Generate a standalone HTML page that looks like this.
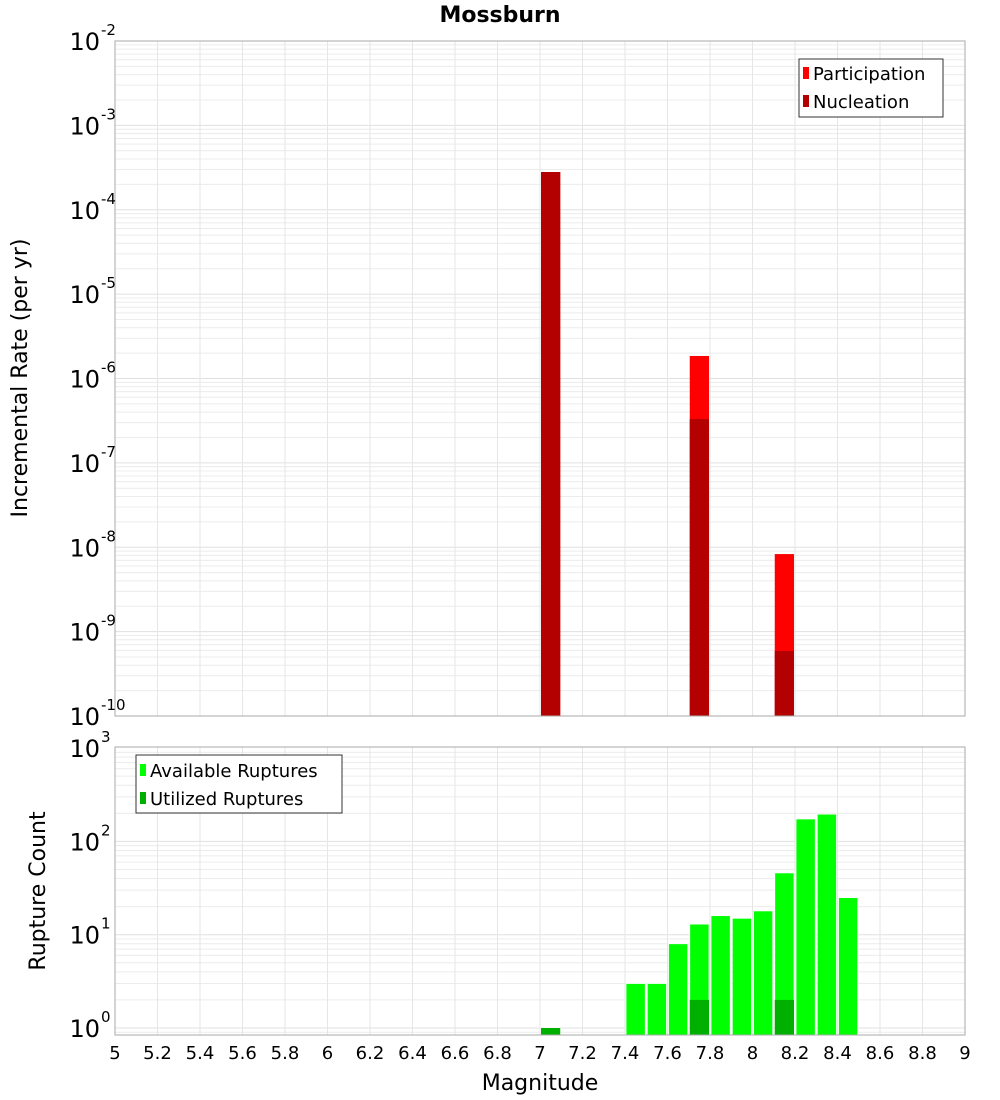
<!DOCTYPE html>
<html><head><meta charset="utf-8"><style>
body{margin:0;background:#fff;}
svg{display:block;font-family:"DejaVu Sans","Liberation Sans",sans-serif;}
</style></head><body>
<svg id="chart" width="1000" height="1100" viewBox="0 0 1000 1100" xmlns="http://www.w3.org/2000/svg">
<text x="500" y="22" text-anchor="middle" font-size="22" font-weight="bold">Mossburn</text>
<g id="top"></g><g id="bot"></g>
<text transform="translate(27,378) rotate(-90)" text-anchor="middle" font-size="22">Incremental Rate (per yr)</text>
<text transform="translate(45,891) rotate(-90)" text-anchor="middle" font-size="22">Rupture Count</text>
<text x="540" y="1090" text-anchor="middle" font-size="22">Magnitude</text>
</svg>
<script>
const topMags=[7.05,7.75,8.15];
const participation=[2.8e-4,1.85e-6,8.3e-9];
const nucleation=[2.8e-4,3.3e-7,5.9e-10];
const botMags=[7.05,7.45,7.55,7.65,7.75,7.85,7.95,8.05,8.15,8.25,8.35,8.45];
const available=[1,3,3,8,13,16,15,18,46,174,196,25];
const utilized=[1,0,0,0,2,0,0,0,2,0,0,0];
const xTicks=[5,5.2,5.4,5.6,5.8,6,6.2,6.4,6.6,6.8,7,7.2,7.4,7.6,7.8,8,8.2,8.4,8.6,8.8,9];
const topExp=[-2,-3,-4,-5,-6,-7,-8,-9,-10];
const botExp=[3,2,1,0];

const NS='http://www.w3.org/2000/svg';
const X0=115,X1=965;
function x(m){return X0+(m-5)/4*(X1-X0);}
function mk(p,tag,a){const e=document.createElementNS(NS,tag);for(const k in a)e.setAttribute(k,a[k]);p.appendChild(e);return e;}
function yTop(v){return 41+(-2-Math.log10(v))*84.375;}
function yBot(v){return 1028-Math.log10(v)*93.3;}

function panel(g,top,bot,yf,lo,hi){
  mk(g,'rect',{x:X0,y:top,width:X1-X0,height:bot-top,fill:'#fff'});
  for(let d=lo;d<hi;d++){for(let k=1;k<10;k++){const yy=yf(k*Math.pow(10,d));if(yy<top||yy>bot)continue;
    const l=mk(g,'line',{x1:X0,x2:X1,y1:yy,y2:yy,stroke:k==1?'#e0e0e0':'#ececec','stroke-width':1});
    
    }}
  xTicks.forEach(t=>{const l=mk(g,'line',{x1:x(t),x2:x(t),y1:top,y2:bot,stroke:'#e6e6e6'});
    
    });
}
function border(g,top,bot){const r=mk(g,'rect',{x:X0,y:top,width:X1-X0,height:bot-top,fill:'none',stroke:'#aaa'});
  
  }
function ylabel(g,e,yy,name){const t=mk(g,'text',{x:100,y:yy+9,'text-anchor':'end','font-size':24});
  
  
  t.textContent='10';
  const s=mk(g,'text',{x:101,y:yy-6,'font-size':15});
  
  
  s.textContent=String(e);}

const gt=document.getElementById('top');
panel(gt,41,716,yTop,-10,-2);
const bw=(x(5.1)-x(5))-2;
topMags.forEach((m,i)=>{
  const yp=yTop(participation[i]);
  const r=mk(gt,'rect',{x:x(m)-bw/2,y:yp,width:bw,height:716-yp,fill:'#ff0000'});
  
  
  const yn=yTop(nucleation[i]);
  const r2=mk(gt,'rect',{x:x(m)-bw/2,y:yn,width:bw,height:716-yn,fill:'#b30000'});
  
  
});
border(gt,41,716);
topExp.forEach(e=>ylabel(gt,e,yTop(Math.pow(10,e)),'top-y-tick-label'));
// top legend
const lg=mk(gt,'g',{});


mk(lg,'rect',{x:799,y:59,width:144,height:58,fill:'#fff',stroke:'#333'});
mk(lg,'rect',{x:803,y:67,width:6,height:12,fill:'#ff0000'});
mk(lg,'text',{x:813,y:80,'font-size':18}).textContent='Participation';
mk(lg,'rect',{x:803,y:95,width:6,height:12,fill:'#b30000'});
mk(lg,'text',{x:813,y:108,'font-size':18}).textContent='Nucleation';

const gb=document.getElementById('bot');
panel(gb,747,1035,yBot,-1,3);
botMags.forEach((m,i)=>{
  if(available[i]>0){const ya=yBot(available[i]);
    const r=mk(gb,'rect',{x:x(m)-bw/2,y:ya,width:bw,height:1035-ya,fill:'#00ff00',stroke:'#ffffff','stroke-width':0.8});
    
    }
  if(utilized[i]>0){const yu=yBot(utilized[i]);
    const r=mk(gb,'rect',{x:x(m)-bw/2,y:yu,width:bw,height:1035-yu,fill:'#00b000'});
    
    }
});
border(gb,747,1035);
botExp.forEach(e=>ylabel(gb,e,yBot(Math.pow(10,e)),'bottom-y-tick-label'));
const lb=mk(gb,'g',{});


mk(lb,'rect',{x:136,y:755,width:206,height:58,fill:'#fff',stroke:'#333'});
mk(lb,'rect',{x:140,y:764,width:6,height:12,fill:'#00ff00'});
mk(lb,'text',{x:150,y:777,'font-size':18}).textContent='Available Ruptures';
mk(lb,'rect',{x:140,y:792,width:6,height:12,fill:'#00b000'});
mk(lb,'text',{x:150,y:805,'font-size':18}).textContent='Utilized Ruptures';
xTicks.forEach(t=>{const tx=mk(gb,'text',{x:x(t),y:1059,'text-anchor':'middle','font-size':18});
  
  
  tx.textContent=String(t);});
</script>
</body></html>
